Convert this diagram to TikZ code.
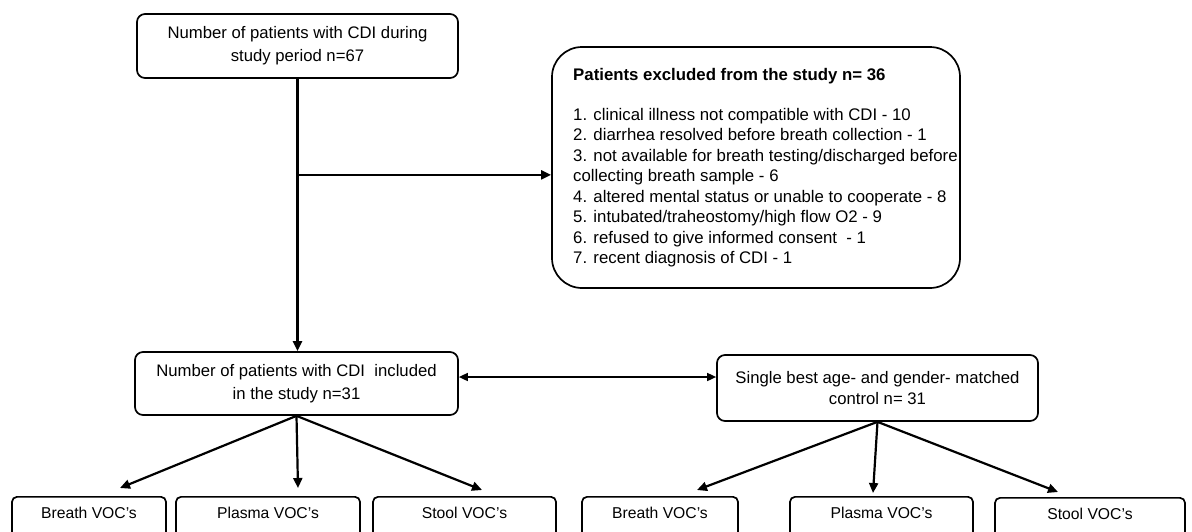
\documentclass[tikz,border=0pt]{standalone}
\usepackage{fontspec}
\setmainfont{Liberation Sans}
\usetikzlibrary{arrows.meta}
\begin{document}
\begin{tikzpicture}[x=1pt,y=-1pt,
  box/.style={draw, line width=1.7pt, rounded corners=8pt, align=center, inner sep=0pt,
    font=\fontsize{16.7}{23}\selectfont},
  exclbox/.style={draw, line width=1.7pt, rounded corners=30pt, inner sep=0pt},
  vocbox/.style={draw, line width=1.7pt, rounded corners=5pt, anchor=north, inner xsep=0pt,
    inner ysep=2pt, text height=20pt, text depth=32pt, font=\fontsize{15.7}{18}\selectfont},
  conn/.style={line width=2.2pt, -{Triangle[length=10pt,width=9pt]}},
  dconn/.style={line width=1.6pt, {Triangle[length=9pt,width=8pt]}-{Triangle[length=9pt,width=8pt]}}
]
\clip (0,0) rectangle (1192,531);
\fill[white] (0,0) rectangle (1192,531);

% main boxes
\node[box, minimum width=321pt, minimum height=64pt] (top) at (297.5,46)
  {Number of patients with CDI during\\study period n=67};
\node[exclbox, minimum width=408pt, minimum height=241pt] (excl) at (756,167.5) {};
\node[anchor=north west, inner sep=0pt, align=left, font=\fontsize{16.8}{20.5}\selectfont] (excltxt) at (573,68)
  {\textbf{Patients excluded from the study n= 36}\\[19.5pt]
   1. clinical illness not compatible with CDI - 10\\
   2. diarrhea resolved before breath collection - 1\\
   3. not available for breath testing/discharged before\\
   collecting breath sample - 6\\
   4. altered mental status or unable to cooperate - 8\\
   5. intubated/traheostomy/high flow O2 - 9\\
   6. refused to give informed consent~ - 1\\
   7. recent diagnosis of CDI - 1};
\node[box, minimum width=323pt, minimum height=63pt] (incl) at (296.5,383.5)
  {Number of patients with CDI~ included\\in the study n=31};
\node[box, minimum width=321pt, minimum height=66pt, font=\fontsize{16.7}{21}\selectfont] (ctrl) at (877.5,388)
  {Single best age- and gender- matched\\control n= 31};

% bottom boxes
\node[vocbox, minimum width=154pt] (b1) at (89,496) {Breath VOC's};
\node[vocbox, minimum width=184pt] (p1) at (268,496) {Plasma VOC's};
\node[vocbox, minimum width=183pt] (s1) at (464.5,496) {Stool VOC's};
\node[vocbox, minimum width=156pt] (b2) at (660,496) {Breath VOC's};
\node[vocbox, minimum width=183pt] (p2) at (881.5,496) {Plasma VOC's};
\node[vocbox, minimum width=190pt] (s2) at (1090,497) {Stool VOC's};

% arrow end points
\coordinate (t1) at (120,488);
\coordinate (t2) at (298,488);
\coordinate (t3) at (482,490);
\coordinate (t4) at (697,490);
\coordinate (t5) at (873,493);
\coordinate (t6) at (1058,492);

% connectors
\draw[conn] (top.south) -- (top.south |- incl.north);
\coordinate (br) at ([yshift=-96pt]top.south);
\draw[conn] (br) -- (br -| excl.west);
\draw[dconn] ([yshift=6.5pt]incl.east) coordinate (da) -- (da -| ctrl.west);

\draw[conn] (incl.south) -- (t1);
\draw[conn] (incl.south) -- (t2);
\draw[conn] (incl.south) -- (t3);
\draw[conn] (ctrl.south) -- (t4);
\draw[conn] (ctrl.south) -- (t5);
\draw[conn] (ctrl.south) -- (t6);
\end{tikzpicture}
\end{document}
